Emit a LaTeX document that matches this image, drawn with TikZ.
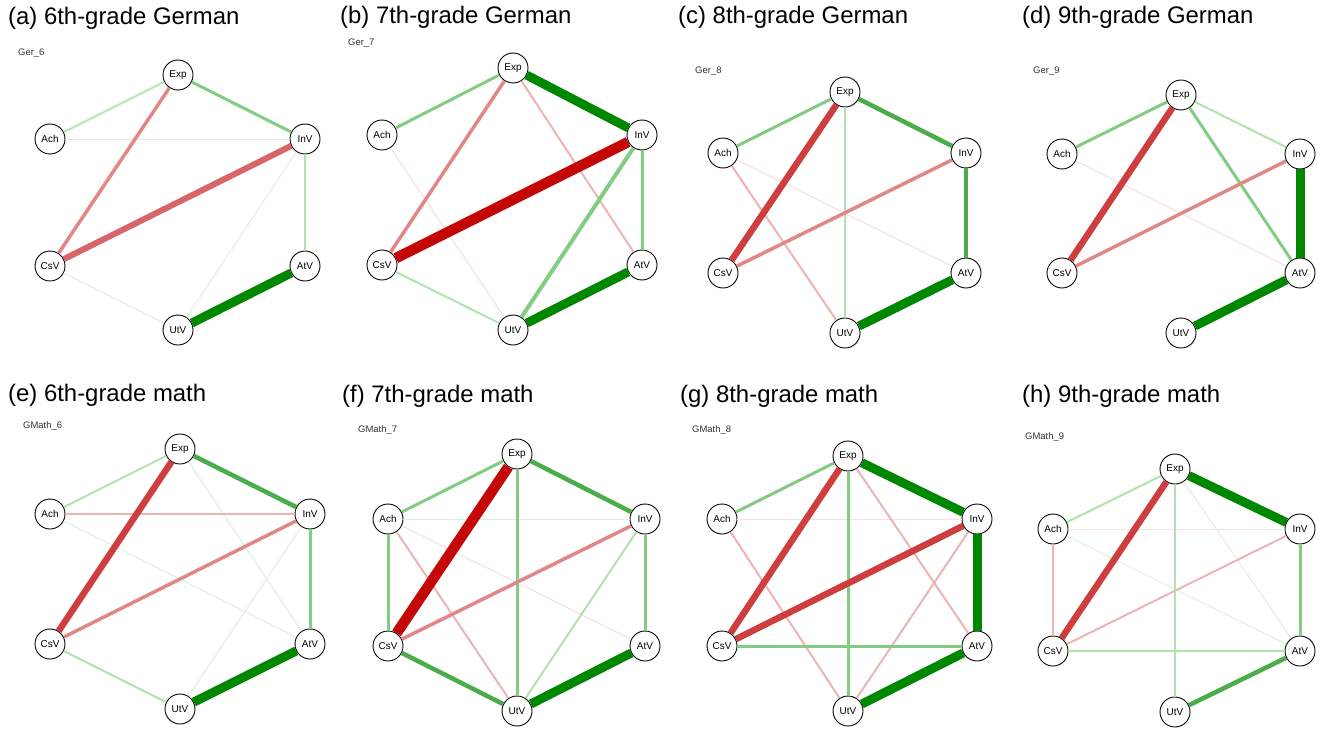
\documentclass[tikz,border=0pt]{standalone}
\usepackage{fontspec}
\setmainfont{Liberation Sans}
\definecolor{posA}{RGB}{222, 241, 222}
\definecolor{posB}{RGB}{178, 226, 178}
\definecolor{posC}{RGB}{130, 205, 130}
\definecolor{posD}{RGB}{75, 172, 75}
\definecolor{posE}{RGB}{0, 135, 0}
\definecolor{negA}{RGB}{246, 224, 224}
\definecolor{negB}{RGB}{236, 180, 180}
\definecolor{negC}{RGB}{226, 135, 135}
\definecolor{negD}{RGB}{216, 102, 102}
\definecolor{negE}{RGB}{206, 62, 62}
\definecolor{negF}{RGB}{196, 8, 8}
\definecolor{labelGray}{RGB}{50, 50, 50}

\begin{document}
\begin{tikzpicture}[
      x=1bp, y=-1bp,
      var/.style={circle, draw=black, line width=0.9bp, fill=white, minimum size=30bp, inner sep=0pt, font=\fontsize{10}{11}\selectfont},
      paneltitle/.style={anchor=base west, inner sep=0pt, font=\fontsize{24}{28}\selectfont},
      netname/.style={anchor=base west, inner sep=0pt, text=labelGray, font=\fontsize{9.5}{10}\selectfont},
      p1/.style={draw=posA, line width=1bp},
      p2/.style={draw=posB, line width=2bp},
      p3/.style={draw=posC, line width=3bp},
      p3w/.style={draw=posC, line width=4bp},
      p4/.style={draw=posD, line width=4.5bp},
      p5/.style={draw=posE, line width=9bp},
      n1/.style={draw=negA, line width=1bp},
      n2/.style={draw=negB, line width=2bp},
      n3/.style={draw=negC, line width=3.5bp},
      n4/.style={draw=negD, line width=6bp},
      n5/.style={draw=negE, line width=6.5bp},
      n6/.style={draw=negF, line width=10.5bp}
    ]
      \useasboundingbox[fill=white] (0,0) rectangle (1325,728);

      % panel titles and network names
      \node[paneltitle] (ta) at (8,25) {(a) 6th-grade German};
      \node[paneltitle] (tb) at (340,24) {(b) 7th-grade German};
      \node[paneltitle] (tc) at (678,24) {(c) 8th-grade German};
      \node[paneltitle] (td) at (1022,24) {(d) 9th-grade German};
      \node[paneltitle] (te) at (8,401) {(e) 6th-grade math};
      \node[paneltitle] (tf) at (342,402) {(f) 7th-grade math};
      \node[paneltitle] (tg) at (680,402) {(g) 8th-grade math};
      \node[paneltitle] (th) at (1022,402) {(h) 9th-grade math};

      \node[netname] (sa) at (18,56) {Ger\_6};
      \node[netname] (sb) at (348,46) {Ger\_7};
      \node[netname] (sc) at (695,74) {Ger\_8};
      \node[netname] (sd) at (1033,74) {Ger\_9};
      \node[netname] (se) at (23,428) {GMath\_6};
      \node[netname] (sf) at (358,432) {GMath\_7};
      \node[netname] (sg) at (692,432) {GMath\_8};
      \node[netname] (sh) at (1025,439) {GMath\_9};

      % six variables per network
      \foreach \p/\xl/\xc/\xr/\yt/\yu/\yl/\yb in {
          a/50/178/305/75/139/266/330, b/382/513/642/68/135/265/330,
          c/723/845/966/92/153/273/333, d/1062/1181/1300/95/154/273/333,
          e/50/180/310/449/514/644/709, f/388/517/645/454/519/646/711,
          g/722/848/977/456/519/646/711, h/1053/1175/1300/469/529/651/712}{
        \node[var] (\p-Exp) at (\xc,\yt) {Exp};
        \node[var] (\p-Ach) at (\xl,\yu) {Ach};
        \node[var] (\p-InV) at (\xr,\yu) {InV};
        \node[var] (\p-CsV) at (\xl,\yl) {CsV};
        \node[var] (\p-AtV) at (\xr,\yl) {AtV};
        \node[var] (\p-UtV) at (\xc,\yb) {UtV};
      }

      % edges, faint first
      \foreach \s/\u/\v in {p1/InV/UtV, p1/CsV/UtV, n1/Ach/InV, p2/Ach/Exp, p2/InV/AtV,
          p3/Exp/InV, n3/Exp/CsV, n4/CsV/InV, p5/UtV/AtV}
        \draw[\s] (a-\u) -- (a-\v);
      \foreach \s/\u/\v in {n1/Ach/UtV, n2/Exp/AtV, p2/CsV/UtV, p3/Ach/Exp, p3/InV/AtV,
          p3w/InV/UtV, n3/Exp/CsV, p5/Exp/InV, n6/CsV/InV, p5/UtV/AtV}
        \draw[\s] (b-\u) -- (b-\v);
      \foreach \s/\u/\v in {n1/Ach/AtV, p2/Exp/UtV, n2/Ach/UtV, p3/Ach/Exp, n3/CsV/InV,
          p4/Exp/InV, p4/InV/AtV, n5/Exp/CsV, p5/UtV/AtV}
        \draw[\s] (c-\u) -- (c-\v);
      \foreach \s/\u/\v in {n1/Ach/AtV, p2/Exp/InV, p3/Ach/Exp, p3/Exp/AtV, n3/CsV/InV,
          n5/Exp/CsV, p5/InV/AtV, p5/AtV/UtV}
        \draw[\s] (d-\u) -- (d-\v);
      \foreach \s/\u/\v in {p1/Exp/AtV, p1/Ach/AtV, p1/InV/UtV, p2/CsV/UtV, p2/Ach/Exp,
          n2/Ach/InV, n3/CsV/InV, p3/InV/AtV, p4/Exp/InV, n5/Exp/CsV, p5/UtV/AtV}
        \draw[\s] (e-\u) -- (e-\v);
      \foreach \s/\u/\v in {p1/Ach/InV, n1/Ach/AtV, p2/InV/UtV, n2/Ach/UtV, p3/Ach/Exp,
          p3/Exp/UtV, p3/Ach/CsV, p3/InV/AtV, n3/CsV/InV, p4/CsV/UtV, p4/Exp/InV,
          n6/Exp/CsV, p5/UtV/AtV}
        \draw[\s] (f-\u) -- (f-\v);
      \foreach \s/\u/\v in {n1/Ach/InV, n2/Ach/UtV, n2/Exp/AtV, n2/InV/UtV, p3/Ach/Exp,
          p3/Exp/UtV, p3/CsV/AtV, n5/Exp/CsV, n5/CsV/InV, p5/Exp/InV, p5/InV/AtV,
          p5/UtV/AtV}
        \draw[\s] (g-\u) -- (g-\v);
      \foreach \s/\u/\v in {n1/Ach/InV, p1/Ach/AtV, p1/Exp/AtV, n2/Ach/CsV, n2/CsV/InV,
          p2/CsV/AtV, p2/Ach/Exp, p2/Exp/UtV, p3/InV/AtV, p4/UtV/AtV, n5/Exp/CsV,
          p5/Exp/InV}
        \draw[\s] (h-\u) -- (h-\v);
    \end{tikzpicture}
\end{document}
